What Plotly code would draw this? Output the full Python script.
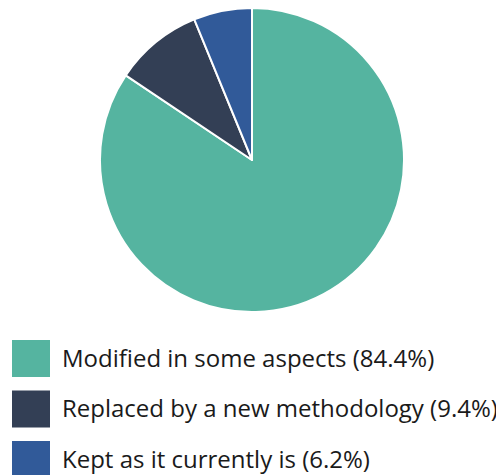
import plotly.graph_objects as go

labels = ["Modified in some aspects", "Replaced by a new methodology", "Kept as it currently is"]
values = [84.4, 9.4, 6.2]
colors = ["#55B4A0", "#333F55", "#315A99"]

W, H = 504, 475
off = 8  # page body margin
cx, cy, r = 252 - off, 160 - off, 152

fig = go.Figure(go.Pie(
    labels=labels, values=values, sort=False, direction="clockwise", rotation=0,
    marker=dict(colors=colors, line=dict(color="white", width=2)),
    textinfo="none", hoverinfo="label+percent", showlegend=False,
    domain=dict(x=[(cx - r) / W, (cx + r) / W], y=[1 - (cy + r) / H, 1 - (cy - r) / H]),
))

shapes, annotations = [], []
for i, (lab, val, col) in enumerate(zip(labels, values, colors)):
    top = 340 - off + i * 50.5
    shapes.append(dict(type="rect", xref="paper", yref="paper",
                       x0=(12 - off) / W, x1=(50 - off) / W, y0=1 - (top + 37) / H, y1=1 - top / H,
                       fillcolor=col, line=dict(width=0)))
    annotations.append(dict(xref="paper", yref="paper", x=(60 - off) / W, y=1 - (top + 17) / H,
                            xanchor="left", yanchor="middle", showarrow=False,
                            text=f"{lab} ({val}%)", font=dict(size=24, color="#1a1a1a")))

fig.update_layout(width=W, height=H, margin=dict(l=0, r=0, t=0, b=0),
                  paper_bgcolor="white", plot_bgcolor="white",
                  font=dict(family="Open Sans, Noto Sans, sans-serif"),
                  shapes=shapes, annotations=annotations)
fig.write_html("out.html")
